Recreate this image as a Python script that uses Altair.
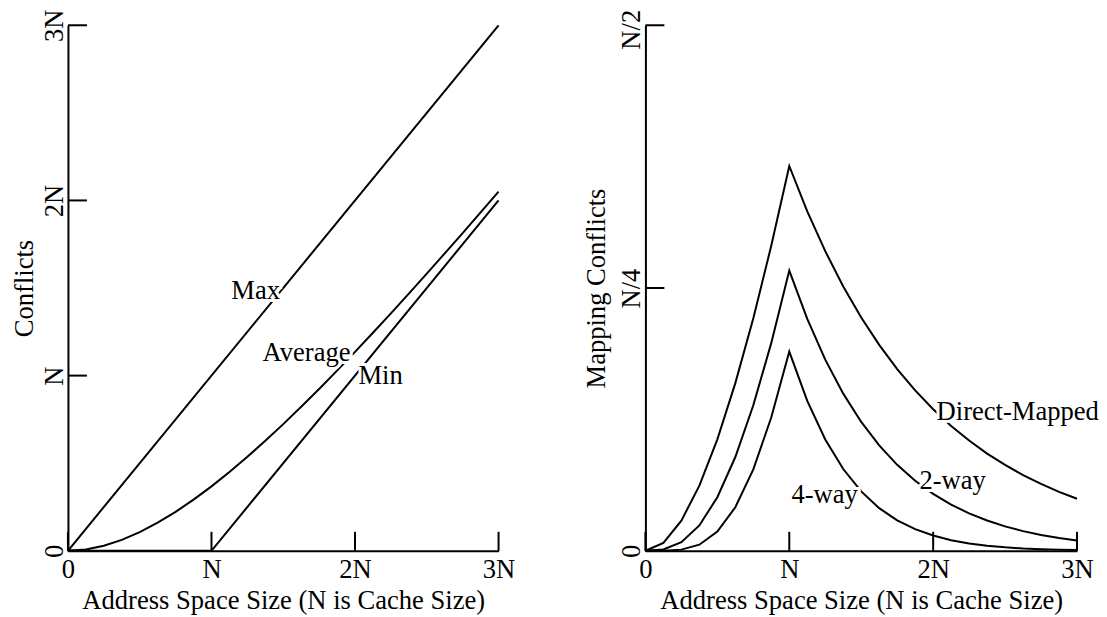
import altair as alt
import pandas as pd

# Address space size in units of N (cache size)
X_STEPS = [0.0, 0.125, 0.25, 0.375, 0.5, 0.625, 0.75, 0.875, 1.0, 1.125, 1.25, 1.375,
           1.5, 1.625, 1.75, 1.875, 2.0, 2.125, 2.25, 2.375, 2.5, 2.625, 2.75, 2.875, 3.0]

# Left panel series (units of N)
MAX_X = [0.0, 3.0]
MAX_Y = [0.0, 3.0]
MIN_X = [0.0, 1.0, 3.0]
MIN_Y = [0.0, 0.0, 2.0]
AVERAGE = [0.0, 0.0075, 0.0288, 0.0623, 0.1065, 0.1603, 0.2224, 0.2919, 0.3679, 0.4497,
           0.5365, 0.6278, 0.7231, 0.8219, 0.9238, 1.0284, 1.1353, 1.2444, 1.3554, 1.4680,
           1.5821, 1.6974, 1.8139, 1.9314, 2.0498]

# Right panel series (units of N)
DIRECT_MAPPED = [0.0, 0.0075, 0.0287, 0.0620, 0.1060, 0.1595, 0.2213, 0.2904, 0.3661, 0.3230,
                 0.2851, 0.2515, 0.2220, 0.1959, 0.1729, 0.1526, 0.1346, 0.1188, 0.1049, 0.0925,
                 0.0817, 0.0720, 0.0636, 0.0561, 0.0495]
TWO_WAY = [0.0, 0.0012, 0.0081, 0.0241, 0.0510, 0.0892, 0.1384, 0.1978, 0.2666, 0.2206,
           0.1819, 0.1495, 0.1226, 0.1003, 0.0818, 0.0666, 0.0541, 0.0439, 0.0356, 0.0288,
           0.0232, 0.0187, 0.0151, 0.0121, 0.0098]
FOUR_WAY = [0.0, 0.0000, 0.0011, 0.0058, 0.0182, 0.0414, 0.0774, 0.1270, 0.1895, 0.1426,
            0.1059, 0.0778, 0.0565, 0.0406, 0.0290, 0.0206, 0.0145, 0.0101, 0.0070, 0.0048,
            0.0033, 0.0022, 0.0015, 0.0011, 0.0007]

# Axis ticks and labels
X_TICKS = [0, 1, 2, 3]
X_TICK_LABELS = ["0", "N", "2N", "3N"]
LEFT_Y_TICKS = [0, 1, 2, 3]
LEFT_Y_TICK_LABELS = ["0", "N", "2N", "3N"]
RIGHT_Y_TICKS = [0, 0.25, 0.5]
RIGHT_Y_TICK_LABELS = ["0", "N/4", "N/2"]

X_TITLE = "Address Space Size (N is Cache Size)"
LEFT_Y_TITLE = "Conflicts"
RIGHT_Y_TITLE = "Mapping Conflicts"

# Curve annotations (data coordinates)
LEFT_NOTES = ["Max", "Average", "Min"]
LEFT_NOTE_X = [1.138, 1.356, 2.024]
LEFT_NOTE_Y = [1.439, 1.086, 0.950]
RIGHT_NOTES = ["Direct-Mapped", "2-way", "4-way"]
RIGHT_NOTE_X = [2.024, 1.905, 1.015]
RIGHT_NOTE_Y = [0.1248, 0.0584, 0.0451]

FONT = "Liberation Serif"
FS = 26.6
H = 526
TICK_LEN = 19


def label_expr(vals, labels):
    expr = "''"
    for v, l in reversed(list(zip(vals, labels))):
        expr = f"(abs(datum.value - {v}) < 1e-9 ? '{l}' : {expr})"
    return expr


left_lines = pd.concat([
    pd.DataFrame({"x": MAX_X, "y": MAX_Y, "series": "Max"}),
    pd.DataFrame({"x": X_STEPS, "y": AVERAGE, "series": "Average"}),
    pd.DataFrame({"x": MIN_X, "y": MIN_Y, "series": "Min"}),
])
right_lines = pd.concat([
    pd.DataFrame({"x": X_STEPS, "y": DIRECT_MAPPED, "series": "Direct-Mapped"}),
    pd.DataFrame({"x": X_STEPS, "y": TWO_WAY, "series": "2-way"}),
    pd.DataFrame({"x": X_STEPS, "y": FOUR_WAY, "series": "4-way"}),
])
left_notes = pd.DataFrame({"x": LEFT_NOTE_X, "y": LEFT_NOTE_Y, "label": LEFT_NOTES})
right_notes = pd.DataFrame({"x": RIGHT_NOTE_X, "y": RIGHT_NOTE_Y, "label": RIGHT_NOTES})


def panel(lines, y_dom, y_ticks, y_labels, y_title, notes, width, lab_pad, title_x, top_offset):
    xs = alt.Scale(domain=[0, 3], nice=False, zero=False)
    ys = alt.Scale(domain=y_dom, nice=False, zero=False)
    x_axis = alt.Axis(
        values=X_TICKS, labelExpr=label_expr(X_TICKS, X_TICK_LABELS), title=X_TITLE,
        ticks=False, grid=False, labelFlush=False, labelOverlap=False, labelAngle=0,
        labelAlign="center", labelBaseline="alphabetic", labelPadding=27,
        titleY=58, titleBaseline="alphabetic",
    )
    y_axis_kwargs = dict(
        values=y_ticks, labelExpr=label_expr(y_ticks, y_labels), title=y_title,
        ticks=False, grid=False, labelFlush=False, labelOverlap=False, labelAngle=270,
        labelAlign="center", labelBaseline="alphabetic", labelPadding=lab_pad,
        titleAngle=270, titleX=title_x, titleY=H / 2, titleBaseline="alphabetic",
        titleAlign="center",
    )
    if top_offset:
        y_axis_kwargs["labelOffset"] = {
            "condition": {"test": f"datum.value == {y_dom[1]}", "value": top_offset},
            "value": 0,
        }
    y_axis = alt.Axis(**y_axis_kwargs)

    line = alt.Chart(lines).mark_line(color="black", strokeWidth=2).encode(
        x=alt.X("x:Q", scale=xs, axis=x_axis),
        y=alt.Y("y:Q", scale=ys, axis=y_axis),
        detail="series:N",
    )
    xt = alt.Chart(pd.DataFrame({"x": X_TICKS})).mark_rule(color="black", strokeWidth=2).encode(
        x=alt.X("x:Q", scale=xs),
        y=alt.value(H),
        y2=alt.value(H - TICK_LEN),
    )
    yt = alt.Chart(pd.DataFrame({"y": y_ticks})).mark_rule(color="black", strokeWidth=2).encode(
        y=alt.Y("y:Q", scale=ys),
        x=alt.value(0),
        x2=alt.value(TICK_LEN),
    )
    halo = alt.Chart(notes).mark_text(
        align="left", baseline="alphabetic", font=FONT, fontSize=FS,
        color="white", stroke="white", strokeWidth=6,
    ).encode(
        x=alt.X("x:Q", scale=xs),
        y=alt.Y("y:Q", scale=ys),
        text="label:N",
    )
    txt = alt.Chart(notes).mark_text(
        align="left", baseline="alphabetic", font=FONT, fontSize=FS, color="black",
    ).encode(
        x=alt.X("x:Q", scale=xs),
        y=alt.Y("y:Q", scale=ys),
        text="label:N",
    )
    return alt.layer(line, xt, yt, halo, txt).properties(width=width, height=H)


left = panel(left_lines, [0, 3], LEFT_Y_TICKS, LEFT_Y_TICK_LABELS, LEFT_Y_TITLE,
             left_notes, 431, 5, -35, 0)
right = panel(right_lines, [0, 0.5], RIGHT_Y_TICKS, RIGHT_Y_TICK_LABELS, RIGHT_Y_TITLE,
              right_notes, 432, 6, -41, 4)

chart = alt.hconcat(
    left, right, spacing=147, bounds="flush",
    padding={"left": 4, "top": 0, "right": 0, "bottom": 0},
).configure(
    font=FONT,
).configure_view(
    strokeWidth=0,
).configure_axis(
    domainColor="black", domainWidth=2,
    labelFont=FONT, labelFontSize=FS, labelColor="black",
    titleFont=FONT, titleFontSize=FS, titleFontWeight="normal", titleColor="black",
)

chart.save("out.html", embed_options={"renderer": "svg", "actions": False})
